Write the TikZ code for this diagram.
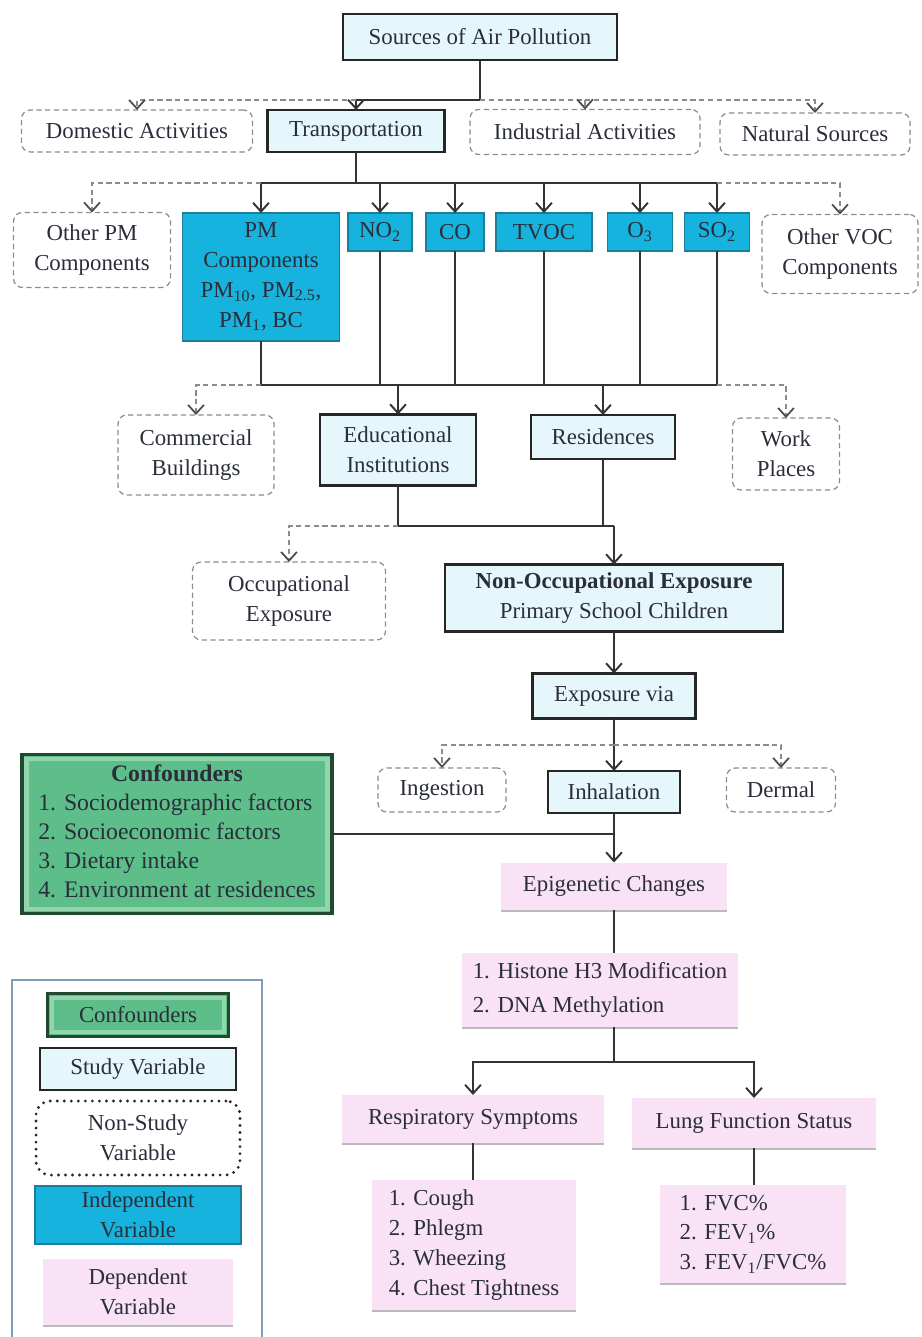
\documentclass[tikz,border=0pt]{standalone}
\usepackage{fontspec}
\setmainfont{Liberation Serif}
\usetikzlibrary{arrows.meta,shadows}
\definecolor{txt}{HTML}{2A2E3A}
\definecolor{studyfill}{HTML}{E6F7FB}
\definecolor{indepfill}{HTML}{16B3DE}
\definecolor{indepline}{HTML}{1C7E99}
\definecolor{depfill}{HTML}{FAE2F6}
\definecolor{confgreen}{HTML}{5DBE8A}
\definecolor{conflight}{HTML}{93D6AE}
\definecolor{confdark}{HTML}{1F4A30}
\definecolor{legline}{HTML}{7C9DBE}

\begin{document}
\begin{tikzpicture}[x=0.02cm, y=-0.02cm,
  every node/.style={font=\fontsize{13}{17}\selectfont, text=txt, inner sep=0pt, outer sep=0pt, align=center},
  study/.style={draw=black!85, line width=1.6pt, fill=studyfill},
  nstudy/.style={draw=gray!90, densely dashed, line width=0.7pt, rounded corners=5pt},
  indep/.style={draw=indepline, line width=0.6pt, fill=indepfill},
  dep/.style={fill=depfill, drop shadow={shadow xshift=0pt, shadow yshift=-1.3pt, fill=black!45, opacity=0.6}},
  conf/.style={fill=confgreen, draw=confdark, line width=2pt,
    path picture={\draw[conflight, line width=2.5pt]
      ([shift={(2.5pt,-2.5pt)}]path picture bounding box.north west) rectangle
      ([shift={(-2.5pt,2.5pt)}]path picture bounding box.south east);}},
  arr/.style={-{Straight Barb[length=5pt,width=9pt]}, line width=1.1pt, draw=black!80},
  dsh/.style={-{Straight Barb[length=5pt,width=9pt,color=black!70,line width=1pt]}, densely dashed, draw=gray!90, line width=0.7pt},
  ln/.style={line width=1.1pt, draw=black!80}
]
\useasboundingbox (0,0) rectangle (921,1337);

\node[study, minimum width=5.48cm, minimum height=0.92cm] (src) at (480,37) {Sources of Air Pollution};
\node[nstudy, minimum width=4.62cm, minimum height=0.84cm] (dom) at (137,131) {Domestic Activities};
\node[study, minimum width=3.54cm, minimum height=0.84cm] (trans) at (356,131) {Transportation};
\node[nstudy, minimum width=4.6cm, minimum height=0.9cm] (ind) at (585,132) {Industrial Activities};
\node[nstudy, minimum width=3.8cm, minimum height=0.84cm] (nat) at (815,134) {Natural Sources};

\node[nstudy, minimum width=3.14cm, minimum height=1.5cm] (opm) at (92,250) {Other PM\\Components};
\node[indep, minimum width=3.14cm, minimum height=2.56cm] (pm) at (261,277)
  {PM\\Components\\PM\textsubscript{10}, PM\textsubscript{2.5},\\PM\textsubscript{1}, BC};
\foreach \n/\x/\w/\t in {no/380/1.28/NO\textsubscript{2}, co/455/1.16/CO, tvoc/544/1.92/TVOC,
  oz/640/1.3/O\textsubscript{3}, so/717/1.3/SO\textsubscript{2}}
  \node[indep, minimum width=\w cm, minimum height=0.76cm] (\n) at (\x,232) {\t};
\node[nstudy, minimum width=3.12cm, minimum height=1.58cm] (ovoc) at (840,254) {Other VOC\\Components};

\node[nstudy, minimum width=3.12cm, minimum height=1.6cm] (com) at (196,455) {Commercial\\Buildings};
\node[study, minimum width=3.12cm, minimum height=1.42cm] (edu) at (398,450) {Educational\\Institutions};
\node[study, minimum width=2.88cm, minimum height=0.88cm] (res) at (603,437) {Residences};
\node[nstudy, minimum width=2.14cm, minimum height=1.44cm] (work) at (786,454) {Work\\Places};

\node[nstudy, minimum width=3.86cm, minimum height=1.56cm] (occ) at (289,601) {Occupational\\Exposure};
\node[study, minimum width=6.76cm, minimum height=1.34cm] (nonocc) at (614,598)
  {\textbf{Non-Occupational Exposure}\\Primary School Children};
\node[study, minimum width=3.26cm, minimum height=0.9cm] (expo) at (614,696) {Exposure via};
\node[nstudy, minimum width=2.56cm, minimum height=0.88cm] (ing) at (442,790) {Ingestion};
\node[study, minimum width=2.64cm, minimum height=0.84cm] (inh) at (614,792) {Inhalation};
\node[nstudy, minimum width=2.18cm, minimum height=0.88cm] (derm) at (781,790) {Dermal};

\node[conf, minimum width=6.2cm, minimum height=3.18cm, font=\fontsize{13.5}{16.5}\selectfont] (conf) at (177,834)
  {\begin{tabular}{@{}l@{}}\multicolumn{1}{c}{\textbf{Confounders}}\\
   1. Sociodemographic factors\\2. Socioeconomic factors\\3. Dietary intake\\4. Environment at residences\end{tabular}};

\node[dep, minimum width=4.52cm, minimum height=0.94cm] (epi) at (614,886) {Epigenetic Changes};
\node[dep, minimum width=5.52cm, minimum height=1.48cm, align=left, font=\fontsize{13}{19}\selectfont] (hist) at (600,990)
  {1. Histone H3 Modification\\2. DNA Methylation};
\node[dep, minimum width=5.24cm, minimum height=0.96cm] (resp) at (473,1119) {Respiratory Symptoms};
\node[dep, minimum width=4.88cm, minimum height=1.0cm] (lung) at (754,1123) {Lung Function Status};
\node[dep, minimum width=4.08cm, minimum height=2.6cm, align=left] (cough) at (474,1245)
  {1. Cough\\2. Phlegm\\3. Wheezing\\4. Chest Tightness};
\node[dep, minimum width=3.72cm, minimum height=1.96cm, align=left] (fvc) at (753,1234)
  {1. FVC\%\\2. FEV\textsubscript{1}\%\\3. FEV\textsubscript{1}/FVC\%};

% legend
\draw[legline, line width=0.8pt] (12,1345) |- (262,980) -- (262,1345);
\node[conf, minimum width=3.62cm, minimum height=0.86cm] (lconf) at (138,1015) {Confounders};
\node[study, minimum width=3.92cm, minimum height=0.84cm] (lstudy) at (138,1069) {Study Variable};
\node[draw=black!85, line width=1.8pt, line cap=round, dash pattern=on 0pt off 4pt, rounded corners=8pt,
  minimum width=4.08cm, minimum height=1.48cm] (lnon) at (138,1138) {Non-Study\\Variable};
\node[indep, minimum width=4.12cm, minimum height=1.16cm] (lind) at (138,1215) {Independent\\Variable};
\node[dep, minimum width=3.8cm, minimum height=1.32cm] (ldep) at (138,1292) {Dependent\\Variable};

\coordinate (j1) at (480,100);
\coordinate (j2) at (356,183);
\coordinate (j3) at (500,385);
\coordinate (j4) at (614,526);
\coordinate (j5) at (614,745);
\coordinate (j6) at (614,834);
\coordinate (j7) at (614,1062);

\draw[ln] (src) -- (j1);
\draw[arr] (j1) -| (trans);
\draw[dsh] (trans.north |- j1) -| (dom);
\draw[dsh] (j1) -| (ind);
\draw[dsh] (ind.north |- j1) -| (nat);

\draw[ln] (trans) -- (j2);
\foreach \n in {pm,no,co,tvoc,oz,so}
  \draw[arr] (j2) -| (\n);
\draw[dsh] (pm.north |- j2) -| (opm);
\draw[dsh] (so.north |- j2) -| (ovoc);

\foreach \n in {pm,no,co,tvoc,oz,so}
  \draw[ln] (\n) |- (j3);
\draw[arr] (j3) -| (edu);
\draw[arr] (j3) -| (res);
\draw[dsh] (pm.south |- j3) -| (com);
\draw[dsh] (so.south |- j3) -| (work);

\draw[ln] (edu) |- (j4);
\draw[ln] (res) -- (res |- j4);
\draw[arr] (j4) -- (nonocc);
\draw[dsh] (edu.south |- j4) -| (occ);

\draw[arr] (nonocc) -- (expo);
\draw[arr] (expo) -- (inh);
\draw[dsh] (j5) -| (ing);
\draw[dsh] (j5) -| (derm);

\draw[ln] (conf) -- (j6);
\draw[arr] (inh) -- (epi);
\draw[ln] (epi) -- (epi |- hist.north);
\draw[ln] (epi |- hist.south) -- (j7);
\draw[arr] (j7) -| (resp);
\draw[arr] (j7) -| (lung);
\draw[ln] (resp) -- (resp |- cough.north);
\draw[ln] (lung) -- (lung |- fvc.north);
\end{tikzpicture}
\end{document}
